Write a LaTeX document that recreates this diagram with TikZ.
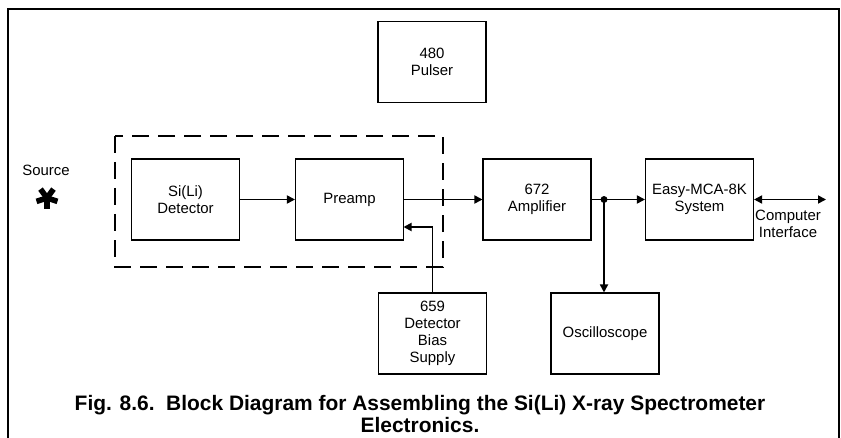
\documentclass[tikz,border=0pt]{standalone}
\usepackage{fontspec}
\setmainfont{Liberation Sans}
\usetikzlibrary{arrows.meta, positioning}

\begin{document}
\begin{tikzpicture}[x=0.75pt, y=-0.75pt,
  bloque/.style={draw, line width=0.8pt, minimum width=81pt, minimum height=60.75pt,
    align=center, font=\fontsize{11.2}{12.8}\selectfont},
  flecha/.style={line width=1.3pt, -{Triangle[length=6pt, width=6pt]}},
  etiqueta/.style={align=center, font=\fontsize{11.2}{12.8}\selectfont}]
\useasboundingbox (0,0) rectangle (841,438);
% Marco
\draw[line width=1pt] (8,438) -- (8,9) -- (839,9) -- (839,438);
% Bloques
\node[bloque] (pulser) at (432,62) {480\\Pulser};
\node[bloque] (det) at (185.5,199.5) {Si(Li)\\Detector};
\node[bloque] (preamp) at (349.5,199.5) {Preamp};
\node[bloque] (amp) at (537,199.5) {672\\Amplifier};
\node[bloque] (mca) at (699.5,199.5) {Easy-MCA-8K\\System};
\node[bloque] (bias) at (432.5,333.5) {659\\Detector\\Bias\\Supply};
\node[bloque] (osc) at (605,333.5) {Oscilloscope};
% Caja punteada
\draw[line width=0.8pt, dash pattern=on 12.75pt off 6.75pt] (115,136) rectangle (443,267);
% Fuente
\node[etiqueta] (fuente) at (46,170) {Source};
\coordinate (estrella) at (47,198);
\foreach \a in {90,162,234,306,18}
  \draw[line width=4.2pt] (estrella) -- ++(\a:11);
% Conexiones
\draw[flecha] (det) -- (preamp);
\draw[flecha] (preamp) -- (amp);
\coordinate (punto) at (604,199.5);
\draw[line width=1.3pt] (amp) -- (punto);
\fill (punto) circle (2.6pt);
\draw[flecha] (punto) -- (mca);
\draw[flecha] (punto) -- (punto |- osc.north);
\coordinate (entrada) at (403.5,227);
\draw[flecha] (bias.north) |- (entrada);
\coordinate (pc) at (826,199.5);
\draw[line width=1.3pt, {Triangle[length=6pt, width=6pt]}-{Triangle[length=6pt, width=6pt]}] (mca) -- (pc);
\node[etiqueta] (interfaz) at (788,224) {Computer\\Interface};
% Titulo
\node[align=center, font=\bfseries\fontsize{15.7}{16.5}\selectfont] (titulo) at (420,414)
  {Fig. 8.6.\ \ Block Diagram for Assembling the Si(Li) X-ray Spectrometer\\Electronics.};
\end{tikzpicture}
\end{document}
